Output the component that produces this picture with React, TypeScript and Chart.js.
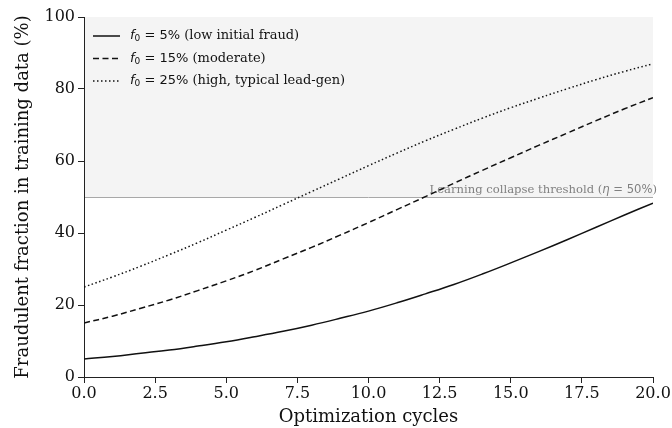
import React, { useEffect, useRef } from "react";
import { Chart, registerables } from "chart.js";

Chart.register(...registerables);

const cycles = [0, 1, 2, 3, 4, 5, 6, 7, 8, 9, 10, 11, 12, 13, 14, 15, 16, 17, 18, 19, 20];
const lowFraud = [5.0, 5.7, 6.6, 7.5, 8.6, 9.8, 11.2, 12.7, 14.4, 16.3, 18.3, 20.6, 23.1, 25.7, 28.6, 31.7, 34.9, 38.2, 41.6, 45.0, 48.3];
const moderateFraud = [15.0, 16.9, 19.1, 21.4, 24.0, 26.7, 29.6, 32.8, 36.0, 39.4, 42.9, 46.5, 50.1, 53.8, 57.4, 60.9, 64.4, 67.8, 71.2, 74.5, 77.6];
const highFraud = [25.0, 27.8, 30.8, 34.0, 37.3, 40.8, 44.3, 47.9, 51.5, 55.1, 58.7, 62.2, 65.6, 68.8, 71.9, 74.8, 77.5, 80.1, 82.6, 84.9, 87.0];
const seriesLabels = [
  "f₀ = 5% (low initial fraud)",
  "f₀ = 15% (moderate)",
  "f₀ = 25% (high, typical lead-gen)",
];
const xTicks = [0, 2.5, 5, 7.5, 10, 12.5, 15, 17.5, 20];
const yTicks = [0, 20, 40, 60, 80, 100];
const threshold = 50;
const thresholdLabel = ["Learning collapse threshold (", "η", " = 50%", ")"];
const xTitle = "Optimization cycles";
const yTitle = "Fraudulent fraction in training data (%)";

const SERIF = "'DejaVu Serif', serif";
const SANS = "'DejaVu Sans', sans-serif";

type Run = { text: string; font: string; dy?: number };

function drawRuns(ctx: CanvasRenderingContext2D, runs: Run[], x: number, y: number) {
  let cx = x;
  for (const r of runs) {
    ctx.font = r.font;
    ctx.fillText(r.text, cx, y + (r.dy || 0));
    cx += ctx.measureText(r.text).width;
  }
}
function runsWidth(ctx: CanvasRenderingContext2D, runs: Run[]) {
  let w = 0;
  for (const r of runs) {
    ctx.font = r.font;
    w += ctx.measureText(r.text).width;
  }
  return w;
}

const bandPlugin = {
  id: "band",
  beforeDraw(chart: any) {
    const { ctx, chartArea, scales } = chart;
    const { left, right } = chartArea;
    const y = scales.y;
    const yT = y.getPixelForValue(threshold);
    const yTop = y.getPixelForValue(yTicks[yTicks.length - 1]);
    ctx.save();
    ctx.fillStyle = "#f4f4f4";
    ctx.fillRect(left, yTop, right - left, yT - yTop);
    ctx.strokeStyle = "#a8a8a8";
    ctx.lineWidth = 1;
    ctx.beginPath();
    ctx.moveTo(left, Math.round(yT) + 0.5);
    ctx.lineTo(right, Math.round(yT) + 0.5);
    ctx.stroke();
    ctx.fillStyle = "#808080";
    ctx.textBaseline = "alphabetic";
    const runs: Run[] = [
      { text: thresholdLabel[0], font: "11.6px " + SERIF },
      { text: thresholdLabel[1], font: "italic 11.6px " + SANS },
      { text: thresholdLabel[2], font: "11.6px " + SANS },
      { text: thresholdLabel[3], font: "11.6px " + SERIF },
    ];
    const w = runsWidth(ctx, runs);
    drawRuns(ctx, runs, right + 4 - w, yT - 4);
    ctx.restore();
  },
  afterDraw(chart: any) {
    const { ctx, chartArea } = chart;
    const datasets = chart.data.datasets;
    ctx.save();
    const x0 = chartArea.left + 9;
    const lineLen = 27;
    const rowStart = chartArea.top + 19;
    const rowGap = 22.5;
    datasets.forEach((ds: any, i: number) => {
      const yy = rowStart + i * rowGap;
      ctx.strokeStyle = ds.borderColor;
      ctx.lineWidth = ds.borderWidth;
      ctx.setLineDash(ds.borderDash || []);
      ctx.beginPath();
      ctx.moveTo(x0, yy);
      ctx.lineTo(x0 + lineLen, yy);
      ctx.stroke();
      ctx.setLineDash([]);
      ctx.fillStyle = "#111";
      ctx.textBaseline = "middle";
      const label: string = ds.label;
      const pct = label.indexOf("%");
      const runs: Run[] = [
        { text: "f", font: "italic 13px " + SANS },
        { text: "0", font: "9px " + SANS, dy: 3 },
        { text: label.slice(2, pct + 1), font: "13px " + SANS },
        { text: label.slice(pct + 1), font: "13px " + SERIF },
      ];
      drawRuns(ctx, runs, x0 + lineLen + 10, yy);
    });
    ctx.restore();
  },
};

export default function App() {
  const ref = useRef<HTMLCanvasElement>(null);
  useEffect(() => {
    if (!ref.current) return;
    const mk = (label: string, data: number[], dash: number[]) => ({
      label,
      data: cycles.map((c, i) => ({ x: c, y: data[i] })),
      borderColor: "#111111",
      backgroundColor: "#111111",
      borderWidth: 1.5,
      borderDash: dash,
      pointRadius: 0,
      tension: 0.4,
      fill: false,
    });
    const chart = new Chart(ref.current, {
      type: "line",
      data: {
        datasets: [
          mk(seriesLabels[0], lowFraud, []),
          mk(seriesLabels[1], moderateFraud, [6, 3.5]),
          mk(seriesLabels[2], highFraud, [1.5, 2.5]),
        ],
      },
      options: {
        animation: false,
        responsive: false,
        devicePixelRatio: 1,
        layout: { padding: { top: 17, right: 19, left: 0, bottom: 0 } },
        plugins: { legend: { display: false }, tooltip: { enabled: false } },
        scales: {
          x: {
            type: "linear",
            min: xTicks[0],
            max: xTicks[xTicks.length - 1],
            afterBuildTicks: (s: any) => {
              s.ticks = xTicks.map((v) => ({ value: v }));
            },
            afterFit: (s: any) => {
              s.height = 51;
            },
            ticks: {
              autoSkip: false,
              maxRotation: 0,
              padding: 1,
              color: "#111",
              font: { family: SERIF, size: 16 },
              callback: (v: any) => Number(v).toFixed(1),
            },
            grid: { drawOnChartArea: false, drawTicks: true, tickLength: 6, color: "#222", lineWidth: 1 },
            border: { display: true, color: "#222", width: 1 },
            title: {
              display: true,
              text: xTitle,
              color: "#111",
              font: { family: SERIF, size: 18 },
              padding: { top: 8, bottom: 0 },
            },
          },
          y: {
            type: "linear",
            min: yTicks[0],
            max: yTicks[yTicks.length - 1],
            afterBuildTicks: (s: any) => {
              s.ticks = yTicks.map((v) => ({ value: v }));
            },
            afterFit: (s: any) => {
              s.width = 84;
            },
            ticks: {
              padding: 3,
              color: "#111",
              font: { family: SERIF, size: 16 },
            },
            grid: { drawOnChartArea: false, drawTicks: true, tickLength: 6, color: "#222", lineWidth: 1 },
            border: { display: true, color: "#222", width: 1 },
            title: {
              display: true,
              text: yTitle,
              color: "#111",
              font: { family: SERIF, size: 18 },
              padding: { top: 13, bottom: 0 },
            },
          },
        },
      },
      plugins: [bandPlugin],
    });
    return () => chart.destroy();
  }, []);
  return (
    <div style={{ position: "fixed", left: 0, top: 0, width: 672, height: 428, background: "#fff" }}>
      <canvas ref={ref} width={672} height={428} style={{ width: 672, height: 428, display: "block" }} />
    </div>
  );
}
